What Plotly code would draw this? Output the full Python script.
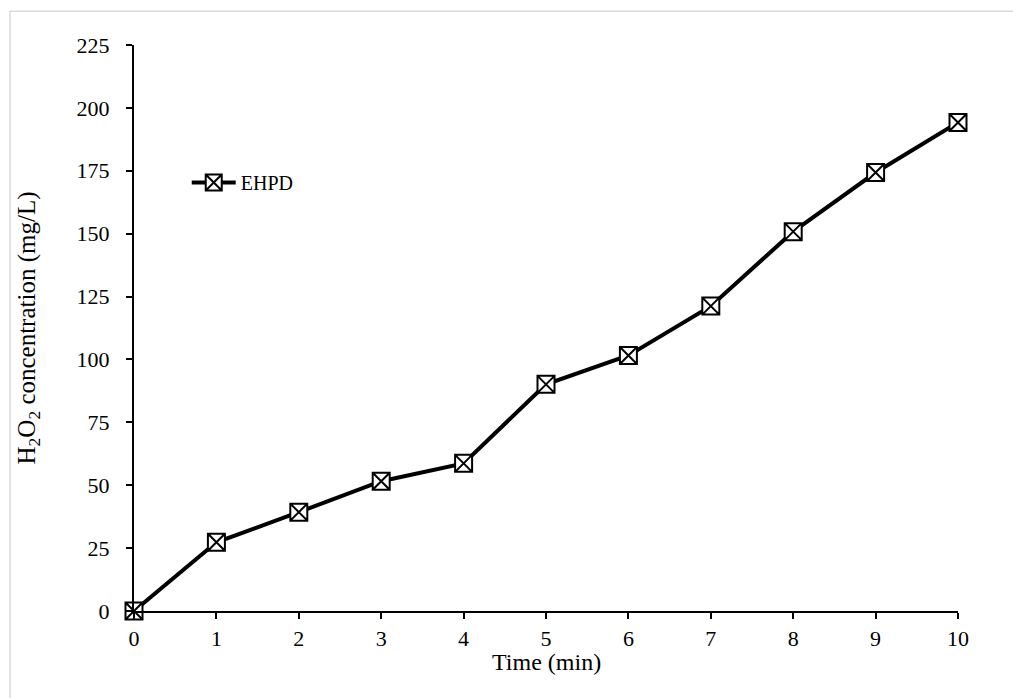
import plotly.graph_objects as go

# Hydrogen peroxide build-up over time
time_min = [0, 1, 2, 3, 4, 5, 6, 7, 8, 9, 10]
h2o2_mg_l = [0, 27.3, 39.3, 51.6, 58.7, 90.1, 101.6, 121.2, 150.8, 174.3, 194.2]
series_name = "EHPD"
x_title = "Time (min)"
y_title = "H<sub>2</sub>O<sub>2</sub> concentration (mg/L)"
x_ticks = list(range(0, 11))
y_ticks = list(range(0, 226, 25))

FONT = "Liberation Serif, Times New Roman, serif"

fig = go.Figure()
fig.add_trace(go.Scatter(
    x=time_min,
    y=h2o2_mg_l,
    mode="lines+markers",
    name=series_name,
    line=dict(color="black", width=4),
    marker=dict(symbol="square-x", size=17, color="white",
                line=dict(color="black", width=2)),
    cliponaxis=False,
))

axis_common = dict(
    showgrid=False,
    zeroline=False,
    showline=True,
    linecolor="black",
    linewidth=2,
    ticks="outside",
    ticklen=6,
    tickwidth=2,
    tickcolor="black",
    tickfont=dict(family=FONT, size=22, color="black"),
)

fig.update_xaxes(
    range=[0, 10],
    tickvals=x_ticks,
    ticklabelstandoff=1,
    **axis_common,
)
fig.update_yaxes(
    range=[0, 225],
    tickvals=y_ticks,
    ticklabelstandoff=12,
    title=dict(text=y_title, font=dict(family=FONT, size=25, color="black"), standoff=34),
    **axis_common,
)

fig.update_layout(
    width=1013,
    height=698,
    margin=dict(l=134, r=55, t=45, b=87),
    paper_bgcolor="white",
    plot_bgcolor="white",
    showlegend=True,
    legend=dict(
        x=0.064, y=0.757, xanchor="left", yanchor="middle",
        bgcolor="rgba(0,0,0,0)",
        font=dict(family=FONT, size=20, color="black"),
        itemwidth=44,
    ),
    annotations=[
        dict(text=x_title, xref="paper", yref="paper", x=0.5, y=-0.0903,
             xanchor="center", yanchor="middle", showarrow=False,
             font=dict(family=FONT, size=24, color="black")),
    ],
    shapes=[
        dict(type="rect", xref="paper", yref="paper",
             x0=-0.1505, y0=-0.3, x1=1.2, y1=1.0595,
             line=dict(color="#d9d9d9", width=1.5), fillcolor="rgba(0,0,0,0)",
             layer="below"),
    ],
)

fig.write_html("out.html")
